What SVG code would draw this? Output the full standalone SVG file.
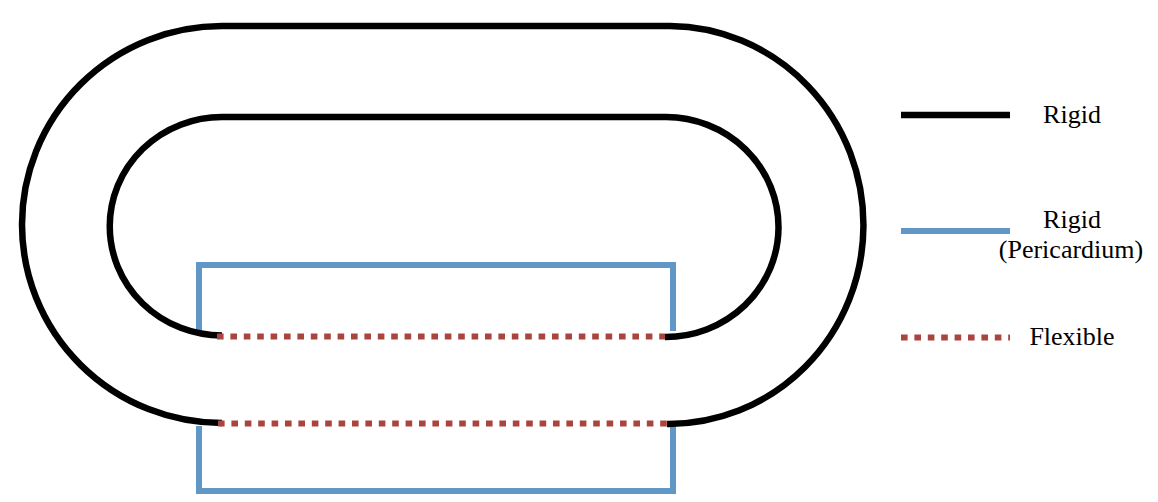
<svg xmlns="http://www.w3.org/2000/svg" width="1158" height="502" viewBox="0 0 1158 502">
<style>
.rigid{fill:none;stroke:#000;stroke-width:6.5;stroke-linecap:butt}
.peri{fill:none;stroke:#6097C6;stroke-width:6;stroke-linejoin:miter}
.flex{fill:none;stroke:#A9443F;stroke-width:6;stroke-dasharray:6.6 6.8}
.lbl{font-size:26px;fill:#000;text-anchor:middle}
</style>
<rect width="1158" height="502" fill="#fff"/>
<g id="connectors">
<g id="pericardium">
<path class="peri" d="M199 331 V265 H673 V331"/>
<path class="peri" d="M199 426 V491 H673 V426"/>
</g>
<g id="outer-rigid">
<path class="rigid" d="M222 423 A200 198.5 0 0 1 222 26 L670 26 A195 199 0 0 1 667 424"/>
</g>
<g id="inner-rigid">
<path class="rigid" d="M222 335.5 A112 109 0 0 1 222 117 L666 117 A113 110 0 0 1 665 337"/>
</g>
<g id="flexible">
<path class="flex" d="M217 336.5 H665"/>
<path class="flex" d="M218 423.5 H668"/>
</g>
</g>
<g id="legend" font-family="'Liberation Serif', 'DejaVu Serif', 'Times New Roman', serif">
<g id="legend-rigid">
<line class="rigid" x1="901" y1="115" x2="1010" y2="115"/>
<text class="lbl" x="1072" y="123">Rigid</text>
</g>
<g id="legend-pericardium">
<line class="peri" x1="901" y1="231" x2="1010" y2="231"/>
<text class="lbl" x="1072" y="228">Rigid</text>
<text class="lbl" x="1071" y="258">(Pericardium)</text>
</g>
<g id="legend-flexible">
<line class="flex" x1="901" y1="337.5" x2="1010" y2="337.5"/>
<text class="lbl" x="1072" y="345">Flexible</text>
</g>
</g>
</svg>
